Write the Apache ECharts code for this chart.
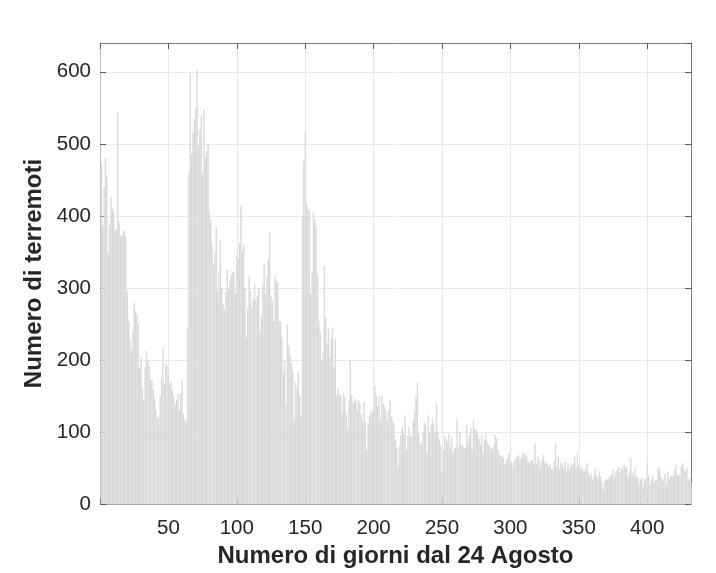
<!DOCTYPE html>
<html>
<head>
<meta charset="utf-8">
<script src="https://cdn.jsdelivr.net/npm/echarts@6/dist/echarts.min.js"></script>
<style>
html,body{margin:0;padding:0;background:#fff;}
#chart{width:716px;height:573px;}
</style>
</head>
<body>
<div id="chart"></div>
<script>
// Daily earthquake counts, day 1 = 24 August
const countsDays001_066 = [474,387,440,481,454,348,387,426,410,405,380,382,544,392,373,373,378,380,371,295,
  254,230,213,240,279,268,263,250,188,204,160,144,190,213,199,192,172,174,160,146,
  130,119,121,150,176,217,167,194,192,180,167,169,158,149,139,145,153,130,153,172,
  125,117,112,245,460,598];
const countsDays067_138 = [486,516,534,550,603,497,520,539,458,548,481,490,500,405,394,360,332,350,383,295,
  323,367,300,277,270,295,325,298,310,318,321,323,293,346,340,362,415,350,360,300,
  231,272,316,295,272,285,305,282,289,300,240,260,305,332,291,316,340,378,289,282,
  254,318,310,307,254,254,231,181,200,139,250,220];
const countsDays139_207 = [206,195,185,117,169,162,183,150,121,401,477,516,419,410,408,293,321,405,395,385,
  318,254,238,199,210,330,259,224,243,204,230,245,190,229,151,160,151,153,128,155,
  149,125,105,144,199,151,139,142,146,130,144,139,125,114,142,114,75,112,122,130,
  126,135,165,150,135,149,117,151,139];
const countsDays208_277 = [135,128,117,130,144,121,115,110,89,78,52,80,96,107,98,123,75,95,107,94,
  94,117,128,150,169,98,84,84,100,114,110,71,123,98,110,119,112,100,139,100,
  90,82,43,75,94,90,87,98,80,94,71,76,78,117,78,100,82,80,78,78,
  110,84,95,105,75,117,105,103,97,91];
const countsDays278_353 = [82,96,73,90,100,87,82,80,75,78,82,96,91,75,68,67,66,64,55,59,
  65,71,55,59,52,61,63,66,68,61,64,71,69,68,66,59,57,60,61,55,
  84,55,66,60,52,61,68,57,59,56,52,55,48,48,60,84,52,66,48,57,
  54,50,59,45,57,48,52,55,57,66,50,71,55,48,52,48];
const countsDays354_432 = [45,50,57,45,39,43,34,40,50,39,36,45,38,29,20,32,34,34,37,39,
  41,48,36,45,48,52,43,50,48,55,52,50,39,43,64,45,39,50,39,36,
  29,33,36,25,34,34,57,40,27,34,39,32,33,34,50,48,39,35,32,43,
  27,45,36,38,39,39,48,55,39,40,41,52,57,48,45,50,34,36,30];

const xTickLabels = [50,100,150,200,250,300,350,400];
const yTickLabels = [0,100,200,300,400,500,600];

const counts = [].concat(countsDays001_066, countsDays067_138, countsDays139_207,
  countsDays208_277, countsDays278_353, countsDays354_432);
const days = counts.map((_, i) => i + 1);
const seriesData = days.map((d, i) => [d, counts[i]]);

const FONT = '"Liberation Sans", Arial, Helvetica, sans-serif';
const TXT = '#262626';

const chart = echarts.init(document.getElementById('chart'), null, {renderer: 'canvas'});
chart.setOption({
  animation: false,
  backgroundColor: '#ffffff',
  grid: {left: 100, top: 43, right: 25, bottom: 65, containLabel: false},
  xAxis: [
    {
      type: 'value', position: 'bottom', min: 0, max: 432, interval: 50,
      name: 'Numero di giorni dal 24 Agosto', nameLocation: 'middle', nameGap: 40,
      nameTextStyle: {fontFamily: FONT, fontSize: 24, fontWeight: 'bold', color: TXT},
      axisLine: {show: true, onZero: false, lineStyle: {color: '#a6a6a6', width: 1}},
      axisTick: {show: true, inside: true, length: 6, lineStyle: {color: '#5a5a5a'}},
      axisLabel: {
        fontFamily: FONT, fontSize: 20.5, color: TXT, margin: 14,
        showMaxLabel: false,
        formatter: v => xTickLabels.indexOf(v) >= 0 ? String(v) : ''
      },
      splitLine: {show: true, lineStyle: {color: '#e8e8e8', width: 1}}
    },
    {
      type: 'value', position: 'top', min: 0, max: 432, interval: 50,
      axisLine: {show: true, onZero: false, lineStyle: {color: '#7f7f7f', width: 1}},
      axisTick: {show: true, inside: true, length: 6, lineStyle: {color: '#5a5a5a'}},
      axisLabel: {show: false},
      splitLine: {show: false}
    }
  ],
  yAxis: [
    {
      type: 'value', position: 'left', min: 0, max: 640, interval: 100,
      name: 'Numero di terremoti', nameLocation: 'middle', nameGap: 52,
      nameTextStyle: {fontFamily: FONT, fontSize: 24, fontWeight: 'bold', color: TXT},
      axisLine: {show: true, onZero: false, lineStyle: {color: '#bdbdbd', width: 1}},
      axisTick: {show: true, inside: true, length: 6, lineStyle: {color: '#5a5a5a'}},
      axisLabel: {
        fontFamily: FONT, fontSize: 20.5, color: TXT, margin: 9,
        showMaxLabel: false,
        formatter: v => yTickLabels.indexOf(v) >= 0 ? String(v) : ''
      },
      splitLine: {show: true, lineStyle: {color: '#e8e8e8', width: 1}}
    },
    {
      type: 'value', position: 'right', min: 0, max: 640, interval: 100,
      axisLine: {show: true, onZero: false, lineStyle: {color: '#7f7f7f', width: 1}},
      axisTick: {show: true, inside: true, length: 6, lineStyle: {color: '#5a5a5a'}},
      axisLabel: {show: false},
      splitLine: {show: false}
    }
  ],
  series: [{
    type: 'bar',
    xAxisIndex: 0, yAxisIndex: 0,
    data: seriesData,
    barWidth: 1.37,
    itemStyle: {color: '#d9d9d9'},
    emphasis: {disabled: true}
  }]
});
</script>
</body>
</html>
